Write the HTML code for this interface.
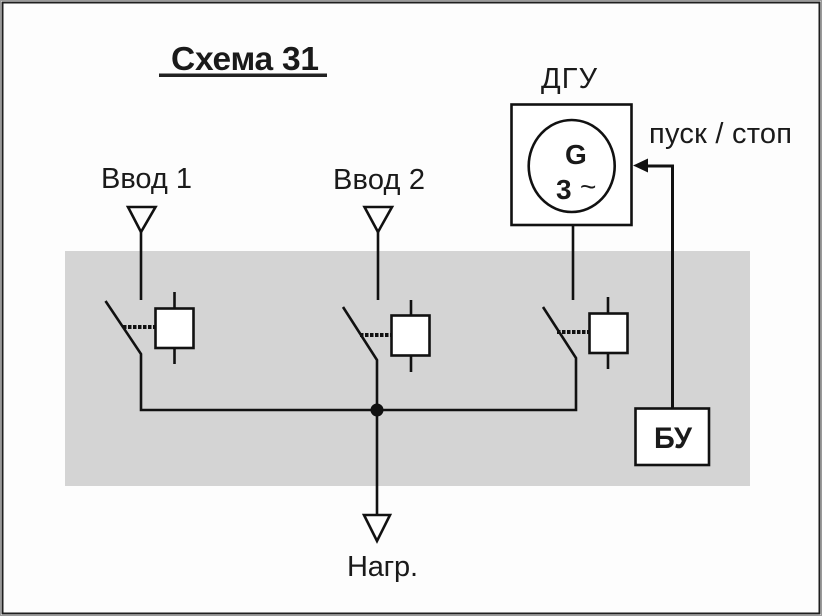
<!DOCTYPE html>
<html><head><meta charset="utf-8"><style>
html,body{margin:0;padding:0;background:#fff}
svg{display:block}
text{font-family:"Liberation Sans",sans-serif;fill:#1a1a1a}
</style></head><body>
<svg width="822" height="616" viewBox="0 0 822 616" xmlns="http://www.w3.org/2000/svg">
<rect width="822" height="616" fill="#fff"/>
<rect x="0.5" y="0.5" width="821" height="615" fill="none" stroke="#9a9a9a"/>
<rect x="2.5" y="2.5" width="817" height="611" fill="#fdfdfd" stroke="#1f1f1f" stroke-width="2"/>
<rect x="65" y="251" width="685" height="235" fill="#d4d4d4"/>
<g fill="none" stroke="#111" stroke-width="2.6">
<polygon points="128,207 155.5,207 141,232"/>
<polygon points="364.5,207 392,207 378,232"/>
<polygon points="364,515 390,515 377,541"/>
<path d="M141 232V300"/><path d="M378 232V300"/><path d="M573 225V300"/>
<path d="M105.500 301L141 354V410H576V358L543 307"/>
<path d="M343 307L377 360V516"/>
<path d="M174.500 292V364M411 300V372M608 297V369"/>
</g>
<g fill="#fff" stroke="#111" stroke-width="2.6">
<rect x="155.500" y="308.500" width="38" height="39.500"/>
<rect x="391.500" y="315.500" width="38" height="40"/>
<rect x="589.500" y="313.500" width="38" height="39.500"/>
<rect x="511.500" y="104.500" width="120" height="120.500"/>
<ellipse cx="571.700" cy="166" rx="43" ry="46"/>
<rect x="635.500" y="408.500" width="73.500" height="56.500"/>
</g>
<g fill="none" stroke="#111" stroke-width="4" stroke-dasharray="3.500 1.500">
<path d="M123 327H155"/><path d="M360 335H391"/><path d="M557 332H589"/>
</g>
<circle cx="377" cy="410" r="6.500" fill="#111"/>
<path d="M672.500 408V166H645" fill="none" stroke="#111" stroke-width="3"/>
<polygon points="633,165.500 648,158.500 648,172.500" fill="#111"/>
<rect x="159" y="73.500" width="168" height="3.500" fill="#222"/>
<text x="171" y="70" font-size="33.500" font-weight="700" textLength="148" lengthAdjust="spacing">Схема 31</text>
<text x="101" y="188" font-size="29" textLength="91" lengthAdjust="spacing">Ввод 1</text>
<text x="333" y="189" font-size="29" textLength="92" lengthAdjust="spacing">Ввод 2</text>
<text x="541" y="88" font-size="29" textLength="56" lengthAdjust="spacing">ДГУ</text>
<text x="649" y="143" font-size="29" textLength="143" lengthAdjust="spacing">пуск / стоп</text>
<text x="347" y="576" font-size="29" textLength="71" lengthAdjust="spacing">Нагр.</text>
<text x="565" y="164" font-size="28" font-weight="700">G</text>
<text x="556" y="199" font-size="28" font-weight="700">3</text>
<text x="580" y="196" font-size="28">~</text>
<text x="654" y="448" font-size="30" font-weight="700" textLength="38" lengthAdjust="spacingAndGlyphs">БУ</text>
</svg>
</body></html>
